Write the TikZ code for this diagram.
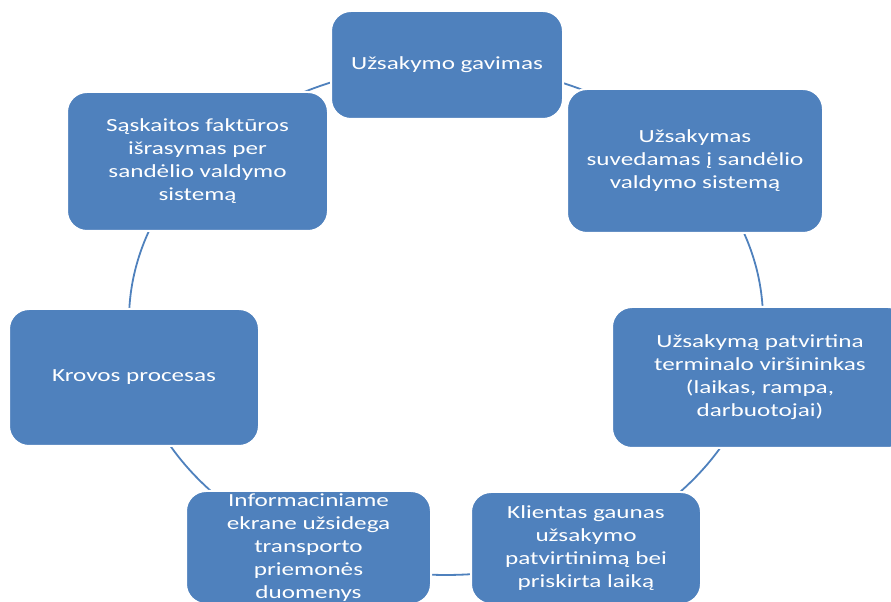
\documentclass[tikz,border=0pt]{standalone}
\usepackage{fontspec}
\setmainfont{Carlito}[FakeStretch=1.36]
\definecolor{boxblue}{RGB}{79,129,189}
\begin{document}
\begin{tikzpicture}[x=1pt,y=1pt,
  stepbox/.style={rounded corners=20pt, fill=boxblue, draw=white, line width=2pt, text=white, align=center, font=\fontsize{18.5}{23}\selectfont, inner sep=0pt},
  conn/.style={draw=boxblue, line width=1.8pt}]
\useasboundingbox (0,0) rectangle (891,602);
\clip (0,0) rectangle (891,602);
\coordinate (c) at (446,282);
\foreach \a/\b in {90/38.57, 38.57/-12.86, -12.86/-64.29, -64.29/-115.71, -115.71/-167.14, -167.14/-218.57, 141.43/90}
  \draw[conn] ([shift={(\a:317pt and 255pt)}]c) arc[start angle=\a, end angle=\b, x radius=317pt, y radius=255pt];
\node[stepbox, minimum width=232pt, minimum height=108pt] (n1) at (447,537) {Užsakymo gavimas};
\node[stepbox, minimum width=256pt, minimum height=144pt] (n2) at (695,441) {Užsakymas\\suvedamas į sandėlio\\valdymo sistemą};
\node[stepbox, minimum width=296pt, minimum height=141pt] (n3) at (760,224.5) {Užsakymą patvirtina\\terminalo viršininkas\\(laikas, rampa,\\darbuotojai)};
\node[stepbox, minimum width=230pt, minimum height=112pt] (n4) at (586,54) {Klientas gaunas\\užsakymo\\patvirtinimą bei\\priskirta laiką};
\node[stepbox, minimum width=245pt, minimum height=113pt] (n5) at (308.5,54.5) {Informaciniame\\ekrane užsidega\\transporto\\priemonės\\duomenys};
\node[stepbox, minimum width=250pt, minimum height=137pt] (n6) at (134,224.5) {Krovos procesas};
\node[stepbox, minimum width=261pt, minimum height=139pt] (n7) at (197.5,440.5) {Sąskaitos faktūros\\išrasymas per\\sandėlio valdymo\\sistemą};
\end{tikzpicture}
\end{document}
